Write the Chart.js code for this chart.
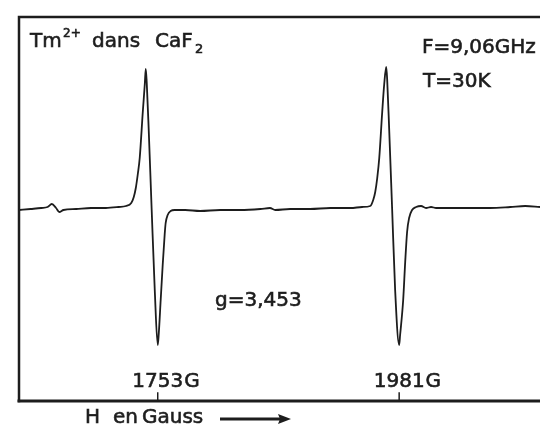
<!DOCTYPE html>
<html>
<head>
<meta charset="utf-8">
<script src="https://cdn.jsdelivr.net/npm/chart.js@4"></script>
<style>
  html, body { margin: 0; padding: 0; background: #fff; }
  canvas { display: block; }
</style>
</head>
<body>
<canvas id="spectre" width="540" height="428"></canvas>
<script>
let ctx = document.getElementById('spectre')

// Spectre RPE de Tm2+ dans CaF2 (dérivée de l'absorption)

// champ magnétique (Gauss)
const champ = [
  1622, 1633, 1643, 1649, 1653, 1657, 1660, 1664, 1676, 1690, 1704, 1716,
  1723, 1728, 1730.4, 1732.3, 1734.2, 1736, 1738.9, 1740.8, 1741.7, 1742.6,
  1744.5, 1747.3, 1750.2, 1753, 1753.9, 1755.8, 1757.7, 1759.6, 1760.5,
  1762.4, 1765.2, 1769, 1779, 1793, 1812, 1831, 1850, 1859, 1864, 1878,
  1897, 1916, 1935, 1946, 1953.7, 1956.5, 1958.4, 1960.3, 1962.2, 1965,
  1966.9, 1968.8, 1969.7, 1971.6, 1974.4, 1977.2, 1981, 1981.9, 1984.8,
  1986.7, 1988.5, 1990.4, 1993.2, 1997, 2001.7, 2006.4, 2011.1, 2015.9,
  2029, 2048, 2067, 2086, 2100, 2114
]

// signal (unités arbitraires)
const signal = [
  -1, 0, 1, 2, 5, 1, -3, -1, 0, 1, 1, 2,
  3, 6, 12, 21, 35, 51, 97, 125, 140, 127,
  79, -1, -81, -136, -126, -91, -56, -25, -14,
  -6, -2, -1, -1, -2, -1, -1, 0, 1, -1, 0,
  0, 1, 1, 2, 3, 9, 17, 31, 51, 97,
  125, 142, 129, 79, -1, -81, -136, -126, -91,
  -53, -23, -9, -1, 2, 3, 1, 2, 1,
  1, 1, 1, 2, 3, 2
]

// repères sur l'axe des champs
const reperes = [1753, 1981]
const reperesLabels = ['1753', '1981']

const points = champ.map((h, i) => ({ x: h, y: signal[i] }))

const police = '"DejaVu Sans", sans-serif'
const encre = '#1d1d1d'

// texte un peu épaissi (trait de normographe)
function ecrire(c, txt, x, y) {
  c.fillText(txt, x, y)
  c.strokeText(txt, x, y)
}

// cadre, repères et textes
const cadre = {
  id: 'cadre',
  afterDraw(chart) {
    const c = chart.ctx
    const a = chart.chartArea
    const x = chart.scales.x
    c.save()
    c.strokeStyle = encre
    c.lineCap = 'square'

    // cadre ouvert à droite
    c.lineWidth = 2.5
    c.beginPath()
    c.moveTo(chart.width + 5, a.top)
    c.lineTo(a.left, a.top)
    c.lineTo(a.left, a.bottom)
    c.stroke()
    c.lineWidth = 3
    c.beginPath()
    c.moveTo(a.left, a.bottom)
    c.lineTo(chart.width + 5, a.bottom)
    c.stroke()

    c.fillStyle = encre
    c.textBaseline = 'alphabetic'
    c.textAlign = 'left'

    // repères 1753 G et 1981 G
    c.font = '20px ' + police
    reperes.forEach((v, i) => {
      const px = x.getPixelForValue(v)
      c.lineWidth = 1.5
      c.beginPath()
      c.moveTo(px, a.bottom)
      c.lineTo(px, a.bottom - 8)
      c.stroke()
      const w = c.measureText(reperesLabels[i]).width
      c.lineWidth = 0.6
      ecrire(c, reperesLabels[i], px - w / 2, 387)
      ecrire(c, 'G', px + w / 2 + 1, 387)
    })

    c.lineWidth = 0.6
    // titre
    c.font = '20px ' + police
    ecrire(c, 'Tm', 30, 47)
    ecrire(c, 'dans', 92, 47)
    ecrire(c, 'CaF', 155, 47)
    c.font = '12px ' + police
    ecrire(c, '2+', 63, 37)
    c.font = '13px ' + police
    ecrire(c, '2', 195, 53)

    c.font = '20px ' + police
    ecrire(c, 'F=9,06GHz', 422, 53)
    ecrire(c, 'T=30K', 423, 87)
    ecrire(c, 'g=3,453', 215, 306)

    // titre de l'axe et flèche
    ecrire(c, 'H', 85, 423)
    ecrire(c, 'en', 113, 423)
    ecrire(c, 'Gauss', 142, 423)
    c.lineWidth = 3
    c.lineCap = 'butt'
    c.beginPath()
    c.moveTo(220, 419)
    c.lineTo(280, 419)
    c.stroke()
    c.beginPath()
    c.moveTo(291, 419)
    c.lineTo(278, 414)
    c.lineTo(280, 419)
    c.lineTo(278, 424)
    c.closePath()
    c.fill()
    c.restore()
  }
}

const data = {
  datasets: [{
    data: points,
    borderColor: encre,
    borderWidth: 1.8,
    pointRadius: 0,
    fill: false,
    cubicInterpolationMode: 'monotone'
  }]
}

const config = {
  type: 'line',
  data,
  options: {
    responsive: false,
    animation: false,
    layout: { padding: { left: 19, top: 17, right: 0, bottom: 27 } },
    plugins: {
      legend: { display: false },
      tooltip: { enabled: false }
    },
    scales: {
      x: { type: 'linear', min: 1622, max: 2114, display: false },
      y: { min: -192, max: 192, display: false }
    }
  },
  plugins: [cadre]
}

const graph = new Chart(ctx, config)
</script>
</body>
</html>
